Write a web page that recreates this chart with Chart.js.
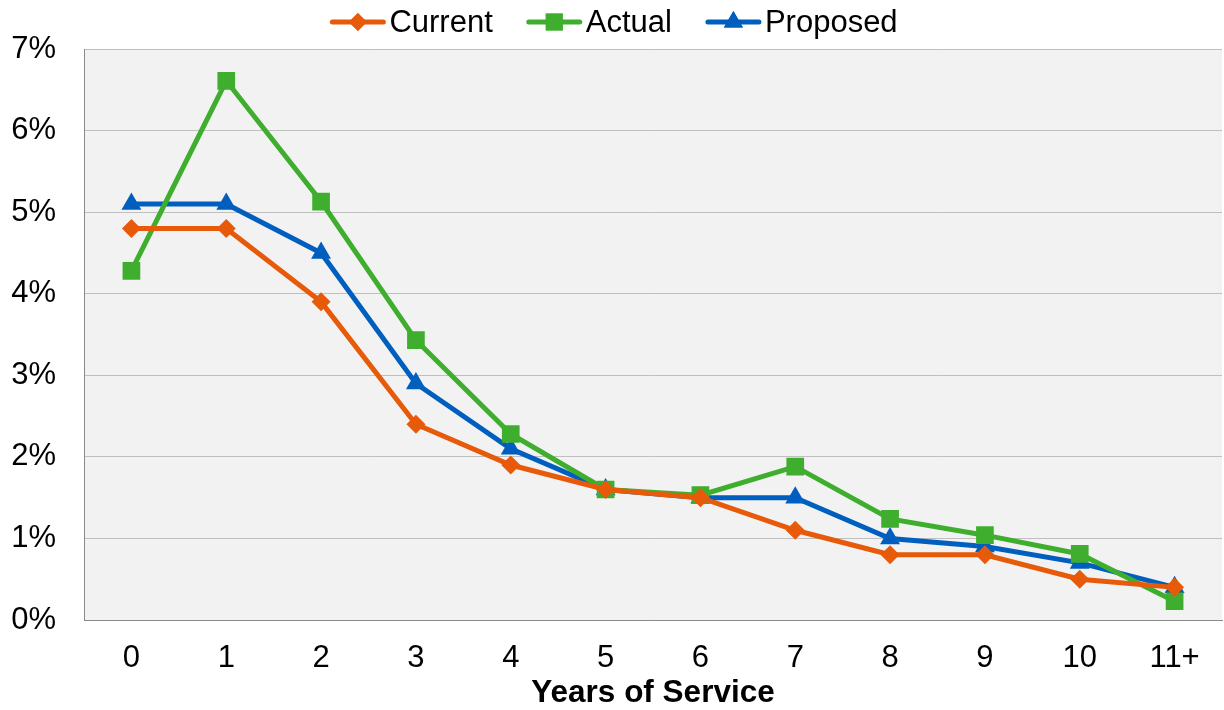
<!DOCTYPE html>
<html>
<head>
<meta charset="utf-8">
<script src="https://cdn.jsdelivr.net/npm/chart.js@4.4.0/dist/chart.umd.min.js"></script>
<style>
  html, body { margin: 0; padding: 0; background: #fff; overflow: hidden; }
  #wrap { width: 1224px; height: 710px; position: relative; overflow: hidden; }
  #chart { display: block; }
</style>
</head>
<body>
<div id="wrap"><canvas id="chart" width="1224" height="710"></canvas></div>
<script>
const categories = ["0", "1", "2", "3", "4", "5", "6", "7", "8", "9", "10", "11+"];
const currentRates = [4.8, 4.8, 3.9, 2.4, 1.9, 1.6, 1.5, 1.1, 0.8, 0.8, 0.5, 0.4];
const actualRates = [4.28, 6.61, 5.13, 3.43, 2.28, 1.6, 1.53, 1.88, 1.24, 1.04, 0.81, 0.23];
const proposedRates = [5.1, 5.1, 4.5, 2.9, 2.1, 1.6, 1.5, 1.5, 1.0, 0.9, 0.7, 0.4];
const yTicks = [0, 1, 2, 3, 4, 5, 6, 7];

const FONT = "'Liberation Sans', Arial, sans-serif";
const colors = { current: "#E65A0A", actual: "#3FAE2F", proposed: "#005FBE" };

// plot background + custom legend (line with marker)
const plotBg = {
    id: "plotBg",
    beforeDraw(chart) {
        const { ctx, chartArea: a } = chart;
        ctx.save();
        ctx.fillStyle = "#F2F2F2";
        ctx.fillRect(a.left, a.top, a.right - a.left, a.bottom - a.top);
        ctx.restore();
    },
    afterDraw(chart) {
        const ctx = chart.ctx;
        ctx.save();
        ctx.font = "31px " + FONT;
        ctx.textBaseline = "middle";
        const items = chart.data.datasets.map(d => ({
            label: d.label, color: d.borderColor, style: d.pointStyle,
            w: ctx.measureText(d.label).width
        }));
        const segLen = 55, gap = 4, itemGap = 34, y = 22;
        let total = items.reduce((s, it) => s + segLen + gap + it.w, 0) + itemGap * (items.length - 1);
        let x = 614 - total / 2;
        items.forEach(it => {
            ctx.strokeStyle = it.color;
            ctx.lineWidth = 5;
            ctx.lineCap = "round";
            ctx.beginPath();
            ctx.moveTo(x + 2, y);
            ctx.lineTo(x + segLen - 2, y);
            ctx.stroke();
            const r = it.style === "rect" ? 12 : it.style === "triangle" ? 11 : 9;
            ctx.fillStyle = it.color;
            Chart.helpers.drawPoint(ctx, { pointStyle: it.style, radius: r, borderWidth: 0 }, x + segLen / 2, y);
            ctx.fill();
            ctx.fillStyle = "#000";
            ctx.fillText(it.label, x + segLen + gap, y + 1);
            x += segLen + gap + it.w + itemGap;
        });
        ctx.restore();
    }
};

function series(label, data, color, style, radius) {
    return {
        label, data,
        borderColor: color, backgroundColor: color,
        borderWidth: 5, pointStyle: style,
        pointRadius: radius, pointHoverRadius: radius,
        pointBorderWidth: 0, tension: 0
    };
}

new Chart(document.getElementById("chart"), {
    type: "line",
    data: {
        labels: categories,
        datasets: [
            series("Current", currentRates, colors.current, "rectRot", 9.5),
            series("Actual", actualRates, colors.actual, "rect", 12.5),
            series("Proposed", proposedRates, colors.proposed, "triangle", 11.5)
        ]
    },
    options: {
        responsive: false,
        animation: false,
        devicePixelRatio: 1,
        layout: { autoPadding: false, padding: { top: 49, right: 2, left: 0, bottom: 1 } },
        plugins: { legend: { display: false }, tooltip: { enabled: false } },
        scales: {
            x: {
                offset: true,
                afterFit(axis) {
                    axis.height = 89;
                    axis.paddingLeft = 0;
                    axis.paddingRight = 0;
                },
                grid: { display: false, drawTicks: false },
                border: { color: "#898989", width: 1 },
                ticks: { color: "#000", font: { family: FONT, size: 31 }, padding: 20 },
                title: {
                    display: true, text: "Years of Service", color: "#000",
                    font: { family: FONT, size: 31.5, weight: "bold", lineHeight: 1 }, padding: { top: 0, bottom: 0 }
                }
            },
            y: {
                min: 0, max: 7,
                afterBuildTicks(axis) { axis.ticks = yTicks.map(v => ({ value: v })); },
                afterFit(axis) { axis.width = 84; },
                grid: { color: "#BFBFBF", lineWidth: 1, drawTicks: false },
                border: { color: "#898989", width: 1 },
                ticks: {
                    color: "#000", font: { family: FONT, size: 31 }, padding: 28,
                    callback: v => v + "%"
                }
            }
        }
    },
    plugins: [plotBg]
});
</script>
</body>
</html>
